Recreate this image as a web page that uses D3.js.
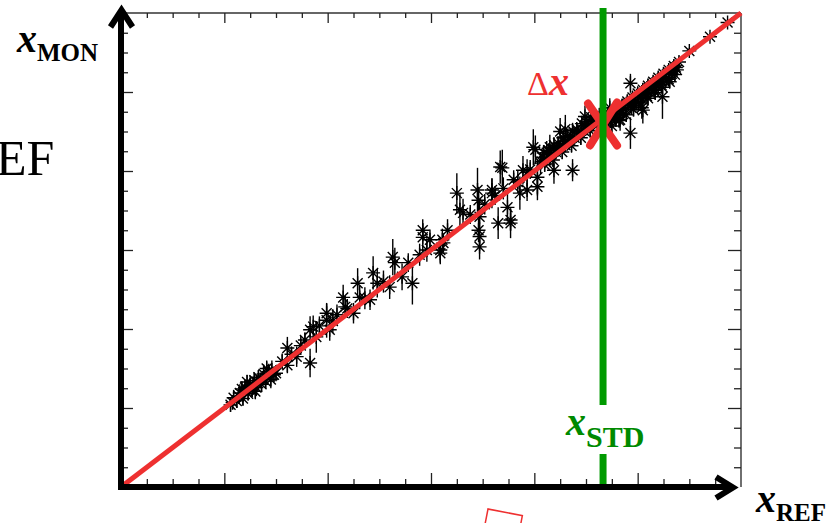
<!DOCTYPE html>
<html>
<head>
<meta charset="utf-8">
<script src="https://cdn.jsdelivr.net/npm/d3@7"></script>
<style>
body { margin: 0; background: #fff; overflow: hidden; }
svg { display: block; }
text { font-family: 'Liberation Serif', 'Times New Roman', serif; }
</style>
</head>
<body>
<div id="chart"></div>
<script>
// [x_REF, x_MON, error on x_MON]
const lowCluster = [
	[10.6,10.4,0.9],[10.9,11.3,1.0],[11.2,10.9,0.8],[11.5,11.9,1.1],[11.8,11.2,0.9],[12.0,12.6,1.0],
	[12.3,11.8,0.8],[12.5,12.9,1.2],[12.7,12.3,0.9],[12.9,13.5,1.0],[13.1,12.6,1.1],[13.3,13.9,0.9],
	[13.6,13.0,1.0],[13.8,14.3,1.2],[14.0,13.4,0.9],[14.3,14.6,1.0],[14.5,13.6,1.1],[14.8,14.2,0.9],
	[11.7,12.4,1.0],[13.0,12.1,1.0],[12.2,13.3,0.9],[14.1,15.0,1.0],[10.8,10.7,0.9],[11.4,11.5,1.0],
	[12.8,12.8,1.1],[13.5,13.5,1.0],[14.6,14.8,1.2],[15.0,14.4,1.0]
]

const risingChain = [
	[15.6,15.9,1.0],[16.1,17.6,1.4],[16.1,15.4,1.0],[16.5,16.8,1.0],[17.0,16.5,1.3],[17.4,17.9,1.2],
	[17.8,18.6,1.0],[18.3,19.9,1.7],[18.6,20.3,1.4],[18.3,15.7,1.8],[18.9,19.0,2.0],[19.2,20.4,1.2],
	[19.9,21.1,2.2],[20.2,19.9,1.4],[19.9,22.0,1.2],[20.5,21.0,1.5],[20.9,21.8,1.3],
	[21.5,24.0,1.6],[21.7,22.8,1.4],[21.9,22.6,1.2],[22.5,22.0,1.3],[22.9,25.8,1.9],[23.1,24.0,1.5],
	[23.6,23.9,1.4],[24.1,23.7,1.3],[24.4,27.1,2.1],[24.8,25.8,1.8],[25.4,26.0,1.4],[26.0,25.3,1.5],
	[26.3,29.1,2.3],[26.5,28.4,1.9],[27.2,26.6,1.7],[27.8,28.4,1.2],[28.2,25.8,2.7],[28.9,29.4,1.4],
	[29.2,31.6,1.8],[29.2,32.5,1.4],[29.6,30.0,1.5],[29.9,31.3,1.3],[30.9,30.0,1.6],[31.1,31.3,1.4],
	[31.2,30.9,1.2],[30.9,29.6,1.4]
]

const upperSpread = [
	[31.6,32.5,1.4],[32.5,37.2,2.5],[32.8,35.1,2.1],[33.1,34.7,1.8],[34.5,37.6,2.8],[34.6,36.3,1.7],
	[34.7,34.2,1.9],[34.7,31.7,1.8],[34.6,32.5,1.5],[34.7,30.4,1.6],[35.9,37.2,1.9],[35.9,37.6,1.4],
	[36.5,33.4,2.0],[36.9,40.4,2.3],[36.7,40.5,2.1],[37.4,35.4,1.8],[37.7,33.4,1.9],[37.7,33.8,1.4],
	[38.6,37.2,2.1],[38.9,40.1,1.8],[39.3,37.6,1.4],[39.3,39.8,1.7],[39.9,43.0,2.3],[40.1,42.7,1.8],
	[40.3,39.2,2.3],[40.3,38.0,1.7],[40.6,41.0,1.4],[41.2,42.3,1.5],[41.5,43.0,1.6],
	[33.8,34.5,1.2],[35.2,35.8,1.3],[36.2,36.9,1.2],[37.0,37.8,1.4],[38.0,38.9,1.2],[38.4,38.6,1.4],
	[39.6,40.2,1.2]
]

const bandBeforeStd = [
	[40.7,41.2,0.9],[41.2,41.5,0.8],[41.6,42.1,0.9],[42.1,42.4,0.8],[42.5,43.0,0.9],[43.0,43.3,0.8],
	[43.4,43.9,0.9],[43.9,44.2,0.8],[44.3,44.8,0.9],[44.8,45.1,0.8],[45.2,45.7,0.9],[45.7,46.0,0.8],
	[46.1,46.4,0.8],
	[40.9,42.3,1.0],[41.4,42.6,0.9],[41.9,43.3,1.0],[42.3,43.5,0.9],[42.8,44.2,1.0],[43.2,44.4,0.9],
	[43.7,45.1,1.0],[44.1,45.3,0.9],[44.6,46.0,1.0],[45.0,46.2,0.9],[45.5,46.8,1.0],[45.9,47.0,0.9],
	[41.0,40.8,0.9],[41.8,41.4,0.8],[42.7,42.4,0.9],[43.6,43.2,0.8],[44.5,44.2,0.9],[45.4,45.1,0.8],
	[46.2,45.9,0.8],
	[40.8,41.7,0.9],[41.5,42.3,0.9],[42.2,42.9,0.9],[42.9,43.7,0.9],[43.5,44.3,0.9],[44.2,45.0,0.9],
	[44.9,45.7,0.9],[45.6,46.4,0.9],[46.3,47.1,0.9],
	[43.7,40.1,1.4],[42.5,45.0,1.7],[44.9,46.9,1.4],[41.9,40.1,1.7],[43.0,45.3,1.8]
]

const bandAfterStd = [
	[47.0,46.8,0.8],[47.5,47.3,0.8],[48.0,47.8,0.9],[48.5,48.3,0.8],[49.0,48.8,0.9],[49.5,49.3,0.8],
	[50.0,49.8,0.9],[50.5,50.3,0.8],[51.0,50.8,0.9],[51.5,51.3,0.8],[52.0,51.8,0.9],[52.5,52.3,0.8],
	[53.0,52.8,0.8],[53.5,53.3,0.8],[54.0,53.8,0.7],
	[47.2,46.2,0.9],[47.8,46.8,0.8],[48.3,47.3,0.9],[48.8,47.8,0.8],[49.3,48.3,0.9],[49.8,48.8,0.8],
	[50.3,49.3,0.9],[50.8,49.8,0.8],[51.3,50.3,0.9],[51.8,50.8,0.8],[52.3,51.3,0.9],[52.8,51.8,0.8],
	[53.3,52.3,0.8],[53.8,52.8,0.7],
	[47.5,45.7,0.9],[48.2,46.4,0.9],[48.9,47.1,0.9],[49.6,47.8,0.9],[50.3,48.5,0.9],[51.0,49.2,0.9],
	[51.7,49.9,0.9],[52.4,50.6,0.9],[53.1,51.3,0.8],
	[47.1,46.5,0.9],[47.7,47.1,0.9],[48.4,47.8,0.9],[49.1,48.5,0.9],[49.7,49.1,0.9],[50.4,49.8,0.9],
	[51.1,50.5,0.9],[51.7,51.1,0.9],[52.4,51.8,0.9],[53.0,52.4,0.8],[53.7,53.1,0.8],
	[47.9,46.5,0.9],[48.6,47.2,0.9],[49.4,48.0,0.9],[50.1,48.7,0.9],[50.9,49.5,0.9],[51.6,50.2,0.9],
	[52.3,50.9,0.9],[53.0,51.6,0.9],[53.6,52.2,0.8],
	[49.3,51.1,1.2],[49.3,44.8,2.0],[50.5,47.7,1.7],[52.4,49.4,2.8],[48.3,46.5,1.4],[50.4,48.0,1.4],
	[47.3,48.0,1.2]
]

const topTail = [[55.0,55.2,0.4],[57.0,57.0,0.4],[58.7,58.8,0.4]]

const domain = [0, 60]
const majorTicks = [10, 20, 30, 40, 50]
const xStd = 46.65

const measurements = [...lowCluster, ...risingChain, ...upperSpread, ...bandBeforeStd, ...bandAfterStd, ...topTail]

const width = 829, height = 523
const red = '#ee3030', green = '#009a00', greenText = '#008a00'

const svg = d3.select('#chart')
	.append('svg')
	.attr('width', width)
	.attr('height', height)

const x = d3.scaleLinear().domain(domain).range([121, 741])
const y = d3.scaleLinear().domain(domain).range([487, 13])

const minorTicks = d3.range(2.5, 60, 2.5).filter(t => !majorTicks.includes(t))

function tickAxis(axisFn, scale, size, values, transform) {
	svg.append('g')
		.attr('transform', transform)
		.style('color', '#222')
		.call(axisFn(scale).tickValues(values).tickSize(size).tickFormat(''))
		.call(g => g.select('.domain').remove())
		.selectAll('line').attr('stroke-width', 1.3)
}

// frame (top / right) + ticks
svg.append('line').attr('x1', 121).attr('x2', 741).attr('y1', y(60)).attr('y2', y(60))
	.attr('stroke', '#333').attr('stroke-width', 1.4)
svg.append('line').attr('x1', x(60)).attr('x2', x(60)).attr('y1', y(60)).attr('y2', 487)
	.attr('stroke', '#333').attr('stroke-width', 1.4)

tickAxis(d3.axisTop, x, -5, minorTicks, `translate(0,${y(60)})`)
tickAxis(d3.axisTop, x, -10, majorTicks, `translate(0,${y(60)})`)
tickAxis(d3.axisRight, y, -7, minorTicks, `translate(${x(60)},0)`)
tickAxis(d3.axisRight, y, -13, majorTicks, `translate(${x(60)},0)`)
tickAxis(d3.axisBottom, x, -8, minorTicks, `translate(0,${y(0)})`)
tickAxis(d3.axisBottom, x, -14, majorTicks, `translate(0,${y(0)})`)
tickAxis(d3.axisLeft, y, -7, minorTicks, `translate(${x(0)},0)`)
tickAxis(d3.axisLeft, y, -12, majorTicks, `translate(${x(0)},0)`)

// points: error bars + asterisk markers
const r = 7, k = 5
const pts = svg.append('g').attr('stroke', '#000').attr('stroke-width', 1.4).attr('fill', 'none')

pts.selectAll('line.err')
	.data(measurements)
	.join('line')
	.attr('class', 'err')
	.attr('x1', d => x(d[0])).attr('x2', d => x(d[0]))
	.attr('y1', d => y(d[1] - d[2])).attr('y2', d => y(d[1] + d[2]))

pts.selectAll('path.star')
	.data(measurements)
	.join('path')
	.attr('class', 'star')
	.attr('d', d => {
		const cx = x(d[0]), cy = y(d[1])
		return `M${cx - r},${cy}h${2 * r}M${cx},${cy - r}v${2 * r}` +
			`M${cx - k},${cy - k}l${2 * k},${2 * k}M${cx - k},${cy + k}l${2 * k},${-2 * k}`
	})

// y = x line
svg.append('line')
	.attr('x1', x(domain[0])).attr('y1', y(domain[0]))
	.attr('x2', x(domain[1])).attr('y2', y(domain[1]))
	.attr('stroke', red).attr('stroke-width', 5)

// delta x mark
const cx = x(xStd), cy = y(xStd)
svg.append('path')
	.attr('d', `M${cx - 15},${cy - 15}L${cx + 14},${cy + 27}M${cx - 13},${cy + 27}L${cx + 14},${cy - 16}`)
	.attr('stroke', red).attr('stroke-width', 8).attr('stroke-linecap', 'round').attr('fill', 'none')

// x_STD line, broken around its label
svg.append('line').attr('x1', cx).attr('x2', cx).attr('y1', 8).attr('y2', 405)
	.attr('stroke', green).attr('stroke-width', 7)
svg.append('line').attr('x1', cx).attr('x2', cx).attr('y1', 454).attr('y2', y(0))
	.attr('stroke', green).attr('stroke-width', 7)

// thick axes with arrows
const axes = svg.append('g').attr('stroke', '#000').attr('stroke-width', 6).attr('fill', 'none')
axes.append('line').attr('x1', x(0)).attr('x2', x(0)).attr('y1', 490).attr('y2', 12)
axes.append('line').attr('x1', 118).attr('x2', 732).attr('y1', y(0)).attr('y2', y(0))
axes.append('path').attr('d', 'M110.5,27L121.5,10L132.5,27')
axes.append('path').attr('d', 'M716,477L733,487.5L716,498')

// labels
function label(px, py, main, sub, color, subSize, subDy) {
	const t = svg.append('text').attr('x', px).attr('y', py).attr('fill', color)
	t.append('tspan').text(main).attr('font-size', 40).attr('font-weight', 'bold').attr('font-style', 'italic')
	t.append('tspan').text(sub).attr('font-size', subSize).attr('font-weight', 'bold').attr('dy', subDy)
}
label(17, 52, 'x', 'MON', '#000', 25, 9)
label(756, 512, 'x', 'REF', '#000', 25, 9)
label(566, 435, 'x', 'STD', greenText, 30, 12)

const dx = svg.append('text').attr('x', 527).attr('y', 95).attr('fill', red)
dx.append('tspan').text('Δ').attr('font-size', 34)
dx.append('tspan').text('x').attr('font-size', 40).attr('font-weight', 'bold').attr('font-style', 'italic')

svg.append('text').attr('x', -4).attr('y', 175).attr('font-size', 50).attr('fill', '#000').text('EF')

// small rotated frame at the bottom
svg.append('rect')
	.attr('x', 488).attr('y', 509).attr('width', 35).attr('height', 22)
	.attr('transform', 'rotate(11,488,509)')
	.attr('fill', 'none').attr('stroke', red).attr('stroke-width', 1.5)
</script>
</body>
</html>
